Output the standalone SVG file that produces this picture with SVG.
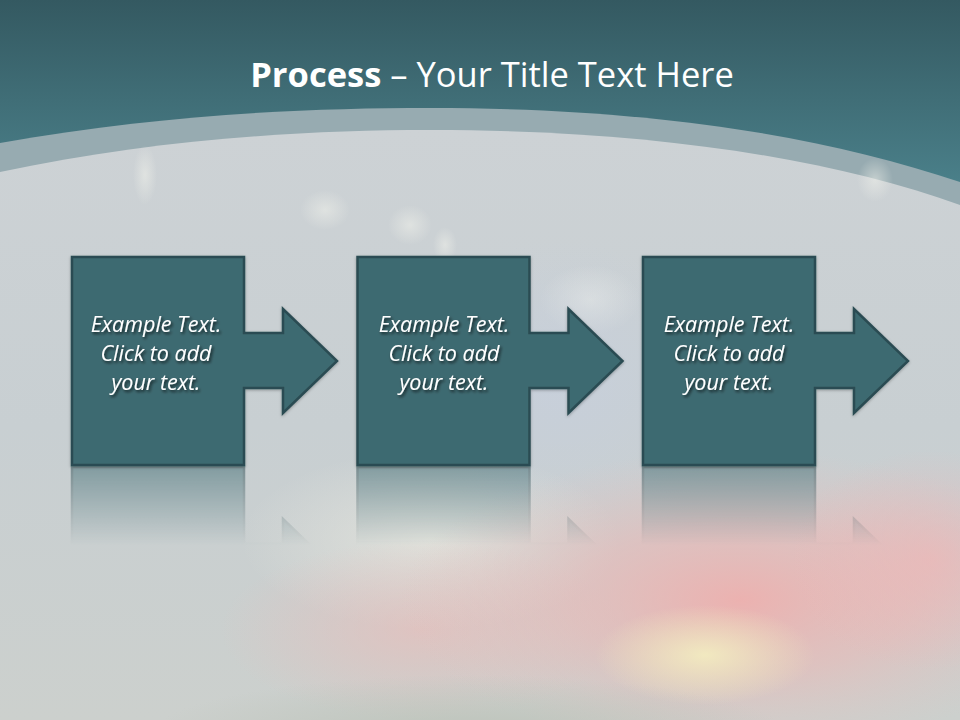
<svg xmlns="http://www.w3.org/2000/svg" xmlns:xlink="http://www.w3.org/1999/xlink" width="960" height="720" viewBox="0 0 960 720">
<defs>
<style>
.node{fill:#3e6a71;stroke:#2b4c52;stroke-width:2.5;stroke-linejoin:miter}
.lbl{font-family:"Open Sans","Liberation Sans",sans-serif;font-style:italic;font-size:21.5px;fill:#ffffff;text-anchor:middle}
.title{font-family:"Open Sans","Liberation Sans",sans-serif;font-size:34.5px;fill:#ffffff}
</style>
<linearGradient id="top" x1="0" y1="0" x2="0" y2="200" gradientUnits="userSpaceOnUse">
<stop offset="0" stop-color="#345961"/>
<stop offset="1" stop-color="#4c838d"/>
</linearGradient>
<linearGradient id="sky" x1="0" y1="130" x2="0" y2="720" gradientUnits="userSpaceOnUse">
<stop offset="0" stop-color="#cdd2d5"/>
<stop offset="0.5" stop-color="#c8cfd2"/>
<stop offset="1" stop-color="#ccd0cd"/>
</linearGradient>
<radialGradient id="pink" cx="0" cy="0" r="1" gradientUnits="userSpaceOnUse" gradientTransform="translate(740,600) scale(340,150)">
<stop offset="0" stop-color="#f4aaa8" stop-opacity="0.8"/>
<stop offset="0.5" stop-color="#efb5b2" stop-opacity="0.5"/>
<stop offset="1" stop-color="#e8c0bd" stop-opacity="0"/>
</radialGradient>
<radialGradient id="pinkR" cx="0" cy="0" r="1" gradientUnits="userSpaceOnUse" gradientTransform="translate(930,560) scale(140,110)">
<stop offset="0" stop-color="#f2b3b3" stop-opacity="0.6"/>
<stop offset="1" stop-color="#f2b3b3" stop-opacity="0"/>
</radialGradient>
<radialGradient id="pinkL" cx="0" cy="0" r="1" gradientUnits="userSpaceOnUse" gradientTransform="translate(420,630) scale(200,90)">
<stop offset="0" stop-color="#efb9b5" stop-opacity="0.55"/>
<stop offset="1" stop-color="#efb9b5" stop-opacity="0"/>
</radialGradient>
<radialGradient id="yel" cx="0" cy="0" r="1" gradientUnits="userSpaceOnUse" gradientTransform="translate(705,655) scale(110,50)">
<stop offset="0" stop-color="#f4f0c0" stop-opacity="0.85"/>
<stop offset="1" stop-color="#f4f0c0" stop-opacity="0"/>
</radialGradient>
<radialGradient id="hill" cx="0" cy="0" r="1" gradientUnits="userSpaceOnUse" gradientTransform="translate(470,735) scale(320,60)">
<stop offset="0" stop-color="#b9c0b5" stop-opacity="0.8"/>
<stop offset="1" stop-color="#b9c0b5" stop-opacity="0"/>
</radialGradient>
<radialGradient id="cream" cx="0" cy="0" r="1" gradientUnits="userSpaceOnUse" gradientTransform="translate(430,540) scale(190,90)">
<stop offset="0" stop-color="#eeece2" stop-opacity="0.6"/>
<stop offset="1" stop-color="#eeece2" stop-opacity="0"/>
</radialGradient>
<radialGradient id="blue" cx="0" cy="0" r="1" gradientUnits="userSpaceOnUse" gradientTransform="translate(560,380) scale(160,140)">
<stop offset="0" stop-color="#c6cfe0" stop-opacity="0.6"/>
<stop offset="1" stop-color="#c6cfe0" stop-opacity="0"/>
</radialGradient>
<radialGradient id="cloud">
<stop offset="0" stop-color="#f2f3ec" stop-opacity="0.5"/>
<stop offset="1" stop-color="#f2f3ec" stop-opacity="0"/>
</radialGradient>
<linearGradient id="fade" x1="0" y1="468" x2="0" y2="545" gradientUnits="userSpaceOnUse">
<stop offset="0" stop-color="#fff" stop-opacity="0.5"/>
<stop offset="1" stop-color="#fff" stop-opacity="0"/>
</linearGradient>
<mask id="refl" maskUnits="userSpaceOnUse" x="0" y="460" width="960" height="120">
<rect x="0" y="460" width="960" height="120" fill="url(#fade)"/>
</mask>
<filter id="ts" x="-20%" y="-20%" width="140%" height="160%">
<feDropShadow dx="1.5" dy="2" stdDeviation="1.5" flood-color="#000" flood-opacity="0.7"/>
</filter>
<filter id="bs" x="-10%" y="-10%" width="120%" height="120%">
<feDropShadow dx="0" dy="1" stdDeviation="1.5" flood-color="#000" flood-opacity="0.3"/>
</filter>
<path id="shape" d="M72,257 H244 V333 H283 V309 L337,361 L283,413 V388 H244 V465 H72 Z"/>
</defs>

<!-- background -->
<rect width="960" height="720" fill="url(#top)"/>
<path d="M0,143 C160,115 300,108 430,108 C650,108 820,135 960,182 V720 H0 Z" fill="#97abb1"/>
<path d="M0,172 C150,140 300,130 430,130 C650,130 830,158 960,205 V720 H0 Z" fill="url(#sky)"/>
<g>
<ellipse cx="145" cy="175" rx="12" ry="30" fill="url(#cloud)"/>
<ellipse cx="325" cy="210" rx="25" ry="20" fill="url(#cloud)"/>
<ellipse cx="410" cy="225" rx="22" ry="20" fill="url(#cloud)"/>
<ellipse cx="445" cy="245" rx="12" ry="18" fill="url(#cloud)"/>
<ellipse cx="875" cy="180" rx="18" ry="22" fill="url(#cloud)"/>
<ellipse cx="590" cy="300" rx="50" ry="35" fill="url(#cloud)"/>
</g>
<rect y="130" width="960" height="590" fill="url(#blue)"/>
<rect y="130" width="960" height="590" fill="url(#cream)"/>
<rect y="130" width="960" height="590" fill="url(#pinkL)"/>
<rect y="130" width="960" height="590" fill="url(#pink)"/>
<rect y="130" width="960" height="590" fill="url(#pinkR)"/>
<rect y="130" width="960" height="590" fill="url(#yel)"/>
<rect y="130" width="960" height="590" fill="url(#hill)"/>

<!-- title -->
<text class="title" x="492" y="87" text-anchor="middle"><tspan font-weight="bold">Process</tspan> – Your Title Text Here</text>

<!-- reflections -->
<g mask="url(#refl)">
<use xlink:href="#shape" class="node" transform="translate(0,932) scale(1,-1)"/>
<use xlink:href="#shape" class="node" transform="translate(285.5,932) scale(1,-1)"/>
<use xlink:href="#shape" class="node" transform="translate(571,932) scale(1,-1)"/>
</g>

<g id="connectors"/>

<g id="node1" filter="url(#bs)">
<use xlink:href="#shape" class="node"/>
<text class="lbl" filter="url(#ts)"><tspan x="156" y="332">Example Text.</tspan><tspan x="156" y="361">Click  to add</tspan><tspan x="156" y="390">your text.</tspan></text>
</g>
<g id="node2" filter="url(#bs)">
<use xlink:href="#shape" class="node" transform="translate(285.5,0)"/>
<text class="lbl" filter="url(#ts)"><tspan x="444" y="332">Example Text.</tspan><tspan x="444" y="361">Click  to add</tspan><tspan x="444" y="390">your text.</tspan></text>
</g>
<g id="node3" filter="url(#bs)">
<use xlink:href="#shape" class="node" transform="translate(571,0)"/>
<text class="lbl" filter="url(#ts)"><tspan x="729" y="332">Example Text.</tspan><tspan x="729" y="361">Click  to add</tspan><tspan x="729" y="390">your text.</tspan></text>
</g>
</svg>
